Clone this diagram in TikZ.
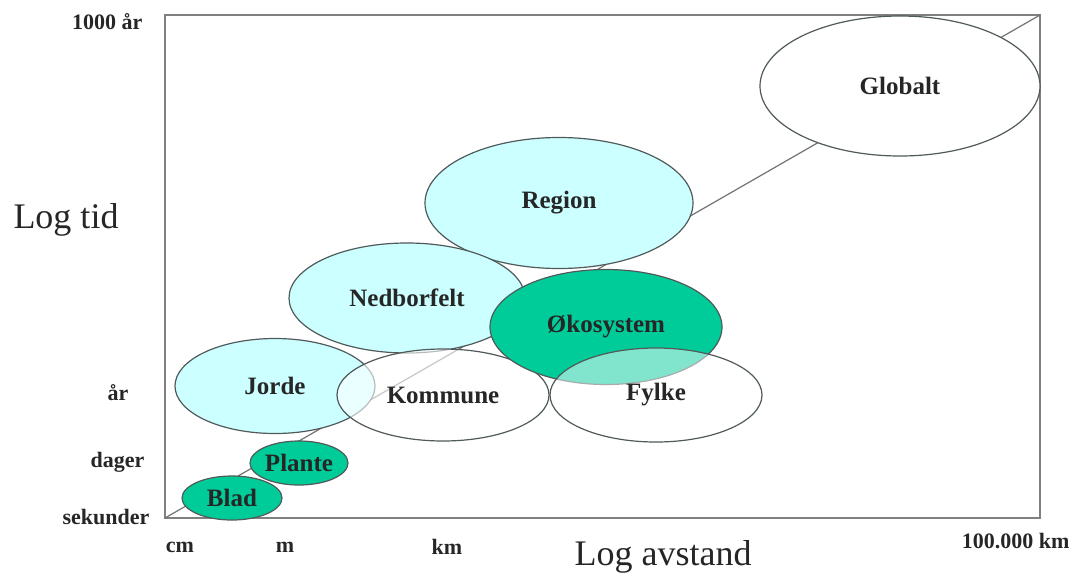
\documentclass[tikz,border=0pt]{standalone}
\usepackage{fontspec}
\setmainfont{Liberation Serif}
\usetikzlibrary{shapes.geometric}

\definecolor{lysblaa}{HTML}{CCFFFF}
\definecolor{okogronn}{HTML}{00CC99}
\definecolor{kant}{HTML}{505A5A}

\begin{document}
\begin{tikzpicture}[x=1pt, y=-1pt,
    skala/.style={ellipse, draw=kant, line width=1.2pt, inner sep=0pt, text=black!85,
                  font=\fontsize{25}{27}\selectfont\bfseries},
    tikk/.style={font=\fontsize{22}{24}\selectfont\bfseries, text=black!85},
    akse/.style={font=\fontsize{36}{38}\selectfont, text=black!85}]
    \useasboundingbox[fill=white] (0,0) rectangle (1079,574);

    % Frame + diagonal
    \draw[gray, line width=2pt] (165,15) rectangle (1040,518);
    \coordinate (origo) at (165,518);
    \coordinate (topp) at (1040,15);
    \draw[gray!90!black, line width=1.2pt] (origo) -- (topp);

    % --- SCALES ---
    \node[skala, fill=white, minimum width=280, minimum height=140] (globalt) at (900,86) {Globalt};
    \node[skala, fill=lysblaa, minimum width=268, minimum height=131] (region) at (559,203) {Region};
    \node[skala, fill=lysblaa, minimum width=200, minimum height=95] (jorde) at (275,386) {Jorde};
    \node[skala, fill=lysblaa, minimum width=236, minimum height=110] (nedbor) at (407,298) {Nedborfelt};
    \node[skala, fill=white, fill opacity=0.6, text opacity=1, minimum width=212, minimum height=92] (kommune) at (443,395) {Kommune};
    \node[skala, fill=okogronn, minimum width=232, minimum height=115] (oko) at (606,327) {Økosystem};
    \node[skala, fill=white, fill opacity=0.5, text opacity=1, minimum width=212, minimum height=94] (fylke) at (656,395) {Fylke};
    \node[skala, fill=okogronn, minimum width=98, minimum height=44] (plante) at (299,463) {Plante};
    \node[skala, fill=okogronn, minimum width=100, minimum height=44] (blad) at (232,498) {Blad};

    % --- AXES ---
    \node[tikk, anchor=east] (t1000) at (146,22) {1000 år};
    \node[tikk, anchor=east] (tar) at (132,393) {år};
    \node[tikk, anchor=east] (tdag) at (148,462) {dager};
    \node[tikk, anchor=east] (tsek) at (153,517) {sekunder};
    \node[akse] (logtid) at (66,220) {Log tid};

    \node[tikk] (xcm) at (180,547) {cm};
    \node[tikk] (xm) at (285,547) {m};
    \node[tikk] (xkm) at (447,547) {km};
    \node[tikk, anchor=east] (x100) at (1073,541) {100.000 km};
    \node[akse] (logavst) at (663,557) {Log avstand};
\end{tikzpicture}
\end{document}
